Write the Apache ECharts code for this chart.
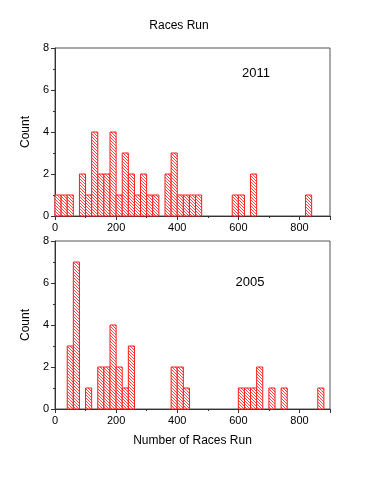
<!DOCTYPE html>
<html><head><meta charset="utf-8">
<script src="https://cdn.jsdelivr.net/npm/echarts@6/dist/echarts.min.js"></script>
<style>html,body{margin:0;padding:0;background:#fff}#c{width:368px;height:481px}</style>
</head><body><div id="c"></div>
<script>
const binWidth = 20;
const bins2011 = [0,20,40,80,100,120,140,160,180,200,220,240,260,280,300,320,360,380,400,420,440,460,580,600,640,820];
const counts2011 = [1,1,1,2,1,4,2,2,4,1,3,2,1,2,1,1,2,3,1,1,1,1,1,1,2,1];
const bins2005 = [40,60,100,140,160,180,200,220,240,380,400,420,600,620,640,660,700,740,860];
const counts2005 = [3,7,1,2,2,4,2,1,3,2,2,1,1,1,1,2,1,1,1];
const xTicks = [0,200,400,600,800];
const yTicks = [0,2,4,6,8];
const panelLabels = ['2011','2005'];

const FONT = 'Liberation Sans, Arial, sans-serif';

const pc = document.createElement('canvas');
pc.width = 3; pc.height = 3;
const pctx = pc.getContext('2d');
pctx.fillStyle = '#ffffff';
pctx.fillRect(0,0,3,3);
pctx.fillStyle = 'rgba(255,40,40,0.85)';
for (let i = 0; i < 3; i++) pctx.fillRect(i, i, 1, 1);
const pattern = {image: pc, repeat: 'repeat'};

function renderBar(params, api) {
  const x0 = api.value(0), y = api.value(1);
  const p0 = api.coord([x0, 0]);
  const p1 = api.coord([x0 + binWidth, y]);
  return {
    type: 'rect',
    shape: {x: p0[0], y: p1[1], width: p1[0] - p0[0], height: p0[1] - p1[1]},
    style: {fill: pattern, stroke: '#ff1a1a', lineWidth: 1}
  };
}

function xAxis(idx, withName) {
  return {
    gridIndex: idx, type: 'value', min: 0, max: 900, interval: 200,
    axisLine: {show: true, onZero: false, lineStyle: {color: '#333', width: 1}},
    axisTick: {show: true, inside: false, length: 4, lineStyle: {color: '#333'}},
    minorTick: {show: true, splitNumber: 2, length: 2, lineStyle: {color: '#333'}},
    splitLine: {show: false},
    axisLabel: {fontSize: 11, color: '#000', fontFamily: FONT, margin: 6, showMaxLabel: false,
      formatter: v => xTicks.indexOf(v) >= 0 ? String(v) : ''},
    name: withName ? 'Number of Races Run' : '',
    nameLocation: 'middle', nameGap: 26,
    nameTextStyle: {fontSize: 12, color: '#000', fontFamily: FONT}
  };
}
function yAxis(idx) {
  return {
    gridIndex: idx, type: 'value', min: 0, max: 8, interval: 2,
    axisLine: {show: true, lineStyle: {color: '#333', width: 1}},
    axisTick: {show: true, inside: false, length: 4, lineStyle: {color: '#333'}},
    minorTick: {show: true, splitNumber: 2, length: 2, lineStyle: {color: '#333'}},
    splitLine: {show: false},
    axisLabel: {fontSize: 11, color: '#000', fontFamily: FONT, margin: 6,
      formatter: v => yTicks.indexOf(v) >= 0 ? String(v) : ''},
    name: 'Count', nameLocation: 'middle', nameGap: 19,
    nameTextStyle: {fontSize: 12, color: '#000', fontFamily: FONT}
  };
}

const chart = echarts.init(document.getElementById('c'), null, {renderer: 'canvas'});
chart.setOption({
  animation: false,
  backgroundColor: '#fff',
  grid: [
    {left: 55, top: 48, width: 275, height: 168, show: true, borderColor: '#555', borderWidth: 1, backgroundColor: 'transparent'},
    {left: 55, top: 241, width: 275, height: 168, show: true, borderColor: '#555', borderWidth: 1, backgroundColor: 'transparent'}
  ],
  xAxis: [xAxis(0, false), xAxis(1, true)],
  yAxis: [yAxis(0), yAxis(1)],
  series: [
    {type: 'custom', xAxisIndex: 0, yAxisIndex: 0, renderItem: renderBar,
      encode: {x: 0, y: 1}, data: bins2011.map((b, i) => [b, counts2011[i]])},
    {type: 'custom', xAxisIndex: 1, yAxisIndex: 1, renderItem: renderBar,
      encode: {x: 0, y: 1}, data: bins2005.map((b, i) => [b, counts2005[i]])}
  ],
  graphic: [
    {type: 'text', x: 179, y: 26, style: {text: 'Races Run', fontSize: 12, fontFamily: FONT, fill: '#000', textAlign: 'center', textVerticalAlign: 'middle'}},
    {type: 'text', x: 256, y: 73, style: {text: panelLabels[0], fontSize: 13, fontFamily: FONT, fill: '#000', textAlign: 'center', textVerticalAlign: 'middle'}},
    {type: 'text', x: 250, y: 282, style: {text: panelLabels[1], fontSize: 13, fontFamily: FONT, fill: '#000', textAlign: 'center', textVerticalAlign: 'middle'}}
  ]
});
</script></body></html>
